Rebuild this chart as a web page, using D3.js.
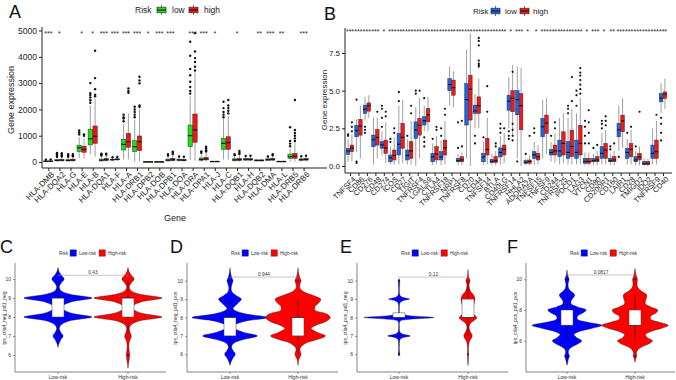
<!DOCTYPE html>
<html>
<head>
<meta charset="utf-8">
<script src="https://cdn.jsdelivr.net/npm/d3@7/dist/d3.min.js"></script>
<style>
  body { margin: 0; background: #fff; }
  svg { display: block; font-family: "Liberation Sans", Arial, sans-serif; }
</style>
</head>
<body>
<script>
// ---------- panel A : HLA genes ----------
const genesA = ["HLA-DMB","HLA-DQA2","HLA-G","HLA-E","HLA-B","HLA-DQA1","HLA-F","HLA-A","HLA-DRB1","HLA-DPB2","HLA-DOB","HLA-DPB1",
  "HLA-DOA","HLA-DRA","HLA-DPA1","HLA-J","HLA-C","HLA-DQB1","HLA-H","HLA-DQB2","HLA-DMA","HLA-L","HLA-DRB5","HLA-DRB6"];
// [lower whisker, q1, median, q3, upper whisker]
const lowA = [[5,15,25,40,70],[10,40,60,90,160],[10,40,60,90,160],[150,400,540,640,950],[300,650,880,1250,2150],[10,40,70,110,200],
  [30,70,90,110,150],[100,456,673,862,1450],[10,392,582,810,1600],[0,5,8,12,20],[0,5,10,15,25],[10,40,70,110,200],
  [10,50,80,110,180],[80,582,1000,1406,2500],[10,60,100,150,300],[0,10,20,30,50],[100,480,710,900,1650],[10,50,80,120,220],
  [30,70,100,130,200],[10,40,60,80,120],[20,60,90,120,180],[0,10,20,30,50],[10,140,200,300,500],[20,60,90,120,180]];
const highA = [[5,15,25,45,80],[10,45,70,100,170],[10,45,70,110,180],[130,370,480,600,900],[200,710,980,1370,2400],[10,50,90,140,240],
  [40,80,100,120,160],[100,560,772,1090,1850],[20,430,772,990,2000],[0,5,8,12,20],[0,5,10,15,25],[10,50,90,140,260],
  [10,45,70,100,170],[50,750,1217,1825,3400],[10,80,120,170,350],[0,10,20,30,50],[100,480,735,960,1750],[10,50,90,140,250],
  [30,70,100,130,200],[10,40,60,80,130],[30,70,100,140,230],[0,10,20,30,50],[10,140,220,330,750],[20,70,100,140,200]];
const lowOutA = [[90],[200,240,280,320,340],[200,240,270,300],[1050,1120,1200],[2250,2350,2450,2550,2620,3000],[250,290,320],
  [180],[1550,1650,1700,1800],[1700,1800,1900,2000,2100],[],[],[250,300],
  [210],[2600,2700,2850,3050,3300,3540,4040,4570],[350,400],[],[1700,1800,1900,2050,2290],[260,300],
  [230],[],[210],[],[600,700,800,1320],[220]];
const highOutA = [[100],[210,250,300,330],[220,260,300],[1000,1050],[2500,2560,2770,3190,4230],[280,320],
  [190],[2630,2700,2800],[2100,2150,2990,3100,3240],[],[],[300,350,390],
  [200],[3480,3620,3800,3950,4200,4900],[400,450,520,580],[],[1850,1950,2050,2150,2360],[300,350,420],
  [240],[],[260,300],[],[800,900,1000,1100,1216,2360],[240]];
const starsA = ["***","*","","*","*","***","***","***","***","*","***","***",
  "","***","***","*","","*","","**","***","**","","***"];
const ticksA = [0,1000,2000,3000,4000,5000];

// ---------- panel B : immune checkpoint genes ----------
const genesB = ["TNFSF4","CD86","CD276","CD48","CD274","ICOS","CD27","TIGIT","TNFRSF4","LGALS9","CTLA4","TNFRSF18","NRP1",
  "TNFRSF8","CD70","CD44","TNFSF14","BTLA","CD40LG","TNFRSF14","HHLA2","ADORA2A","TNFSF15","TNFSF9","CD244","TNFRSF25",
  "PDCD1","LAG3","VTCN1","CD80","CD200R1","CD160","LAIR1","CD28","TMIGD2","IDO2","TNFRSF9","CD40"];
const lowB = [[0.3,0.77,1.0,1.17,1.8],[0.9,1.94,2.35,2.7,3.1],[3.0,3.49,3.77,4.04,4.6],[0.1,1.28,1.75,2.05,3.2],[0.7,1.17,1.4,1.61,2.3],
  [0.1,0.28,0.55,0.73,1.3],[0.1,0.73,1.45,2.16,4.0],[0.1,0.4,0.7,1.06,1.8],[0.0,1.83,2.4,2.93,3.9],[2.3,2.72,3.0,3.27,4.0],
  [0.05,0.28,0.6,0.84,1.5],[0.05,0.4,0.6,0.95,1.7],[4.0,5.0,5.4,5.8,6.6],[0.05,0.28,0.35,0.51,0.8],[0.5,2.72,4.4,5.47,7.7],
  [2.5,3.49,3.65,4.04,4.8],[0.05,0.28,0.6,0.84,1.6],[0.05,0.22,0.3,0.44,0.8],[0.1,0.6,0.9,1.2,2.0],[2.5,3.7,4.3,4.7,5.9],
  [0.5,3.4,4.4,5.0,6.6],[0.05,0.18,0.25,0.35,0.5],[0.1,0.51,0.75,0.95,1.6],[0.5,1.94,2.6,3.16,4.4],[0.3,0.73,0.9,1.1,1.6],
  [0.1,0.62,1.0,1.72,3.2],[0.1,0.51,0.9,1.61,3.2],[0.1,0.51,0.9,1.72,3.5],[0.05,0.18,0.3,0.51,0.9],[0.05,0.28,0.35,0.5,0.8],
  [0.1,0.51,0.84,1.28,2.2],[0.05,0.28,0.35,0.51,0.8],[1.0,1.94,2.4,2.83,4.0],[0.1,0.51,0.9,1.17,1.8],[0.05,0.28,0.4,0.62,1.0],
  [0.0,0.1,0.15,0.3,0.5],[0.1,0.51,0.84,1.39,2.5],[3.5,4.26,4.5,4.81,5.5]];
const highB = [[0.3,0.95,1.2,1.39,2.1],[0.5,2.05,2.65,3.09,4.0],[3.2,3.64,4.0,4.19,4.7],[0.5,1.39,1.9,2.43,3.2],[0.2,0.84,1.2,1.72,2.9],
  [0.1,0.4,0.7,1.06,1.9],[0.2,1.17,1.9,2.83,4.4],[0.1,0.51,1.0,1.61,3.0],[0.5,2.05,2.7,3.16,4.5],[2.3,2.93,3.4,3.82,4.6],
  [0.1,0.4,0.8,1.28,2.0],[0.1,0.73,1.2,1.72,3.0],[3.9,4.7,5.2,5.7,6.3],[0.05,0.28,0.4,0.62,0.9],[0.0,3.05,5.1,6.03,8.8],
  [2.5,3.49,4.0,4.59,5.8],[0.1,0.73,1.1,1.83,3.2],[0.05,0.22,0.35,0.62,1.0],[0.2,0.73,1.1,1.39,2.2],[2.0,3.6,4.5,5.0,6.7],
  [0.0,2.4,4.0,4.8,6.5],[0.05,0.18,0.3,0.4,0.7],[0.1,0.4,0.6,0.84,1.4],[0.8,2.16,2.85,3.38,4.5],[0.2,0.73,1.0,1.39,2.2],
  [0.2,0.73,1.5,2.27,3.5],[0.1,0.62,1.3,2.38,3.8],[0.1,0.73,1.5,2.7,4.5],[0.05,0.18,0.3,0.51,0.9],[0.05,0.28,0.4,0.62,1.0],
  [0.1,0.51,1.05,1.5,2.4],[0.05,0.28,0.4,0.62,1.0],[1.2,2.27,3.0,3.38,4.5],[0.1,0.62,1.1,1.5,2.4],[0.05,0.4,0.6,0.84,1.3],
  [0.0,0.1,0.15,0.3,0.5],[0.1,0.51,0.95,1.72,3.0],[3.8,4.48,4.77,4.92,5.8]];
const lowOutB = [[2.0,2.1],[0.2,0.3,4.4],[2.2,2.4,2.6],[],[2.6,3.2,3.8,4.0],[1.6,1.8],[4.3,4.9],[2.0],[4.8,5.0],[1.3,1.6,1.9,4.5],
  [1.8],[2.0,2.5],[],[1.2,2.9],[],[1.5,2.0],[1.9],[],[2.2,2.5,2.8],[1.8,2.0,2.3],[0.3],[0.8],[2.2,2.5],[],[2.0],
  [],[3.5,3.8,4.0],[4.0,4.7,5.0],[1.5,2.0,2.6,3.0],[1.2],[2.5,2.8,3.0],[1.1,1.3],[0.6],[2.2],[1.3],[],[],[1.7,2.2,2.8,3.2]];
const highOutB = [[2.3,2.6,2.9],[],[],[3.6],[3.3,3.6],[2.2,2.5],[],[3.5,4.0],[5.0],[],
  [2.4,2.6],[3.4,3.8],[],[1.3,3.0],[],[6.6,6.7,6.8,7.0,8.0,8.3,8.5],[3.6,5.3],[1.3,1.5],[2.5],[1.7,2.0,2.4,2.8,6.25],[],[2.0],[],[],[2.5,2.9],
  [],[4.3,5.9],[4.8,5.1,5.4,5.7,6.0,6.2,6.5],[1.5,2.2,2.9,3.7],[1.4],[2.7,3.0,3.3],[1.5],[],[2.6],[3.6],[],[3.4],[]];
const starsB = ["***","***","***","***","*","***","***","***","***","***","***","***","***","***","***","***","***","***","***",
  "*","***","*","*","***","***","***","***","***","*","***","*","**","***","***","***","***","***","***"];
const ticksB = [0,2.5,5,7.5];

// ---------- panels C-F : violins, [value, relative half width] ----------
const violinNames = ["ips_ctla4_neg_pd1_neg","ips_ctla4_neg_pd1_pos","ips_ctla4_pos_pd1_neg","ips_ctla4_pos_pd1_pos"];
const pValues = ["0.43","0.944","0.12","0.0817"];
const groups = ["Low-risk","High-risk"];
const shapeLow = [
  [[6.4,0],[6.6,0.03],[6.8,0.08],[7,0.15],[7.2,0.08],[7.4,0.04],[7.6,0.1],[7.8,0.35],[8,1],[8.2,0.4],[8.4,0.15],[8.5,0.1],[8.6,0.15],[8.8,0.4],[9,1],[9.2,0.35],[9.4,0.08],[9.6,0.04],[9.8,0.1],[10,0.18],[10.2,0.1],[10.4,0.03],[10.6,0]],
  [[5.4,0],[5.6,0.03],[5.8,0.08],[6,0.14],[6.2,0.08],[6.4,0.04],[6.6,0.1],[6.8,0.35],[7,0.72],[7.2,0.35],[7.4,0.12],[7.5,0.08],[7.6,0.12],[7.8,0.4],[8,1],[8.2,0.4],[8.4,0.12],[8.5,0.08],[8.6,0.12],[8.8,0.22],[9,0.3],[9.2,0.16],[9.4,0.05],[9.6,0.03],[9.8,0.05],[10,0.08],[10.2,0.04],[10.5,0.01],[10.7,0]],
  [[5.9,0],[6,0.02],[6.2,0.01],[6.5,0.01],[6.8,0.03],[6.9,0.1],[7,0.32],[7.1,0.1],[7.2,0.03],[7.5,0.01],[7.8,0.03],[7.9,0.3],[8,1],[8.1,0.3],[8.2,0.03],[8.5,0.01],[8.8,0.03],[8.9,0.1],[9,0.3],[9.1,0.1],[9.2,0.03],[9.5,0.01],[10,0.02],[10.1,0]],
  [[4.4,0],[4.6,0.02],[4.8,0.04],[5,0.07],[5.2,0.04],[5.4,0.05],[5.6,0.15],[5.8,0.32],[6,0.42],[6.2,0.28],[6.4,0.2],[6.6,0.35],[6.8,0.7],[7,1],[7.2,0.6],[7.4,0.3],[7.6,0.3],[7.8,0.45],[8,0.55],[8.2,0.3],[8.4,0.12],[8.6,0.12],[8.8,0.18],[9,0.22],[9.2,0.12],[9.4,0.05],[9.6,0.03],[9.8,0.04],[10,0.06],[10.2,0.03],[10.4,0.01],[10.6,0]]
];
const shapeHigh = [
  [[5.3,0],[5.6,0.02],[6,0.05],[6.3,0.03],[6.6,0.03],[6.8,0.06],[7,0.1],[7.2,0.06],[7.4,0.04],[7.6,0.1],[7.8,0.35],[8,1],[8.2,0.4],[8.4,0.15],[8.5,0.1],[8.6,0.15],[8.8,0.4],[9,1],[9.2,0.35],[9.4,0.08],[9.6,0.04],[9.8,0.1],[10,0.18],[10.2,0.1],[10.4,0.03],[10.6,0]],
  [[5.4,0],[5.7,0.02],[6,0.08],[6.3,0.05],[6.6,0.2],[6.8,0.5],[7,0.72],[7.2,0.5],[7.4,0.35],[7.6,0.5],[7.8,0.75],[8,0.85],[8.2,0.75],[8.4,0.45],[8.6,0.45],[8.8,0.55],[9,0.6],[9.2,0.4],[9.4,0.15],[9.6,0.05],[9.8,0.05],[10,0.08],[10.2,0.04],[10.5,0.01],[10.7,0]],
  [[5.4,0],[5.7,0.01],[6,0.015],[6.4,0.015],[6.7,0.04],[7,0.12],[7.3,0.05],[7.5,0.03],[7.7,0.08],[7.9,0.22],[8,0.25],[8.2,0.15],[8.5,0.15],[8.8,0.18],[9,0.2],[9.2,0.17],[9.4,0.08],[9.6,0.04],[9.8,0.03],[10,0.06],[10.2,0.02],[10.6,0]],
  [[4.6,0],[4.8,0.02],[5,0.05],[5.2,0.04],[5.4,0.08],[5.6,0.2],[5.8,0.4],[6,0.5],[6.2,0.35],[6.4,0.3],[6.6,0.45],[6.8,0.75],[7,0.95],[7.2,0.7],[7.4,0.45],[7.6,0.45],[7.8,0.6],[8,0.65],[8.2,0.45],[8.4,0.3],[8.6,0.3],[8.8,0.33],[9,0.33],[9.2,0.2],[9.4,0.1],[9.6,0.06],[9.8,0.06],[10,0.07],[10.2,0.04],[10.4,0.02],[10.7,0]]
];
// [lower whisker, q1, median, q3, upper whisker]
const boxLow = [[7,8,9,9,10],[6,7,8,8,9],[8,8,8,8.25,8.25],[6,7,7,8,9]];
const boxHigh = [[7,8,9,9,10],[6,7,8,8,9],[7,8,8,9,10],[6,7,7,8,9]];
const outLow = [[],[10],[6,7,9,10],[5,10]];
const outHigh = [[6],[10],[6],[5,10]];

const svg = d3.select("body").append("svg").attr("width", 676).attr("height", 380);

function boxKey(g, x, y, w, h, fill) {
  g.append("line").attr("x1", x + w/2).attr("x2", x + w/2).attr("y1", y).attr("y2", y + h)
    .attr("stroke", "#333").attr("stroke-width", 0.7);
  g.append("rect").attr("x", x).attr("y", y + h*0.22).attr("width", w).attr("height", h*0.56)
    .attr("fill", fill).attr("stroke", "#333").attr("stroke-width", 0.7);
  g.append("line").attr("x1", x).attr("x2", x + w).attr("y1", y + h/2).attr("y2", y + h/2)
    .attr("stroke", "#111").attr("stroke-width", 1);
}

function boxPanel(o) {
  const g = svg.append("g");
  const x = d3.scalePoint().domain(o.genes).range(o.xr);
  const y = d3.scaleLinear().domain(o.yd).range(o.yr);

  const ya = g.append("g").attr("transform", `translate(${o.ax},0)`)
    .call(d3.axisLeft(y).tickValues(o.ticks).tickFormat(o.fmt).tickSize(3).tickPadding(2));
  ya.select(".domain").remove();
  ya.selectAll("text").style("font-size", o.fs + "px").style("fill", "#222");
  ya.selectAll("line").attr("stroke", "#222");
  g.append("line").attr("x1", o.ax).attr("x2", o.ax).attr("y1", o.axTop).attr("y2", o.ay).attr("stroke", "#222");

  const xa = g.append("g").attr("transform", `translate(0,${o.ay})`)
    .call(d3.axisBottom(x).tickSize(3));
  xa.select(".domain").remove();
  xa.selectAll("line").attr("stroke", "#222");
  xa.selectAll("text").attr("x", 0).attr("y", 0).attr("dy", "0.7em")
    .attr("transform", "translate(2,3) rotate(-45)").style("text-anchor", "end")
    .style("font-size", o.xfs + "px").style("fill", "#222");
  g.append("line").attr("x1", o.ax).attr("x2", o.axRight).attr("y1", o.ay).attr("y2", o.ay).attr("stroke", "#222");

  [[o.low, o.lowOut, -o.dodge, o.cols[0]], [o.high, o.highOut, o.dodge, o.cols[1]]].forEach(([stats, outs, off, col]) => {
    const bx = g.append("g");
    bx.selectAll("line.w").data(stats).join("line").attr("class", "w")
      .attr("x1", (d, i) => x(o.genes[i]) + off).attr("x2", (d, i) => x(o.genes[i]) + off)
      .attr("y1", d => y(d[0])).attr("y2", d => y(d[4]))
      .attr("stroke", "#777").attr("stroke-width", 0.7);
    bx.selectAll("rect").data(stats).join("rect")
      .attr("x", (d, i) => x(o.genes[i]) + off - o.bw/2).attr("width", o.bw)
      .attr("y", d => y(d[3])).attr("height", d => Math.max(0.8, y(d[1]) - y(d[3])))
      .attr("fill", col).attr("stroke", "#333").attr("stroke-width", 0.5);
    bx.selectAll("line.m").data(stats).join("line").attr("class", "m")
      .attr("x1", (d, i) => x(o.genes[i]) + off - o.bw/2).attr("x2", (d, i) => x(o.genes[i]) + off + o.bw/2)
      .attr("y1", d => y(d[2])).attr("y2", d => y(d[2]))
      .attr("stroke", "#111").attr("stroke-width", 1.1);
    const pts = [];
    outs.forEach((arr, i) => arr.forEach(v => pts.push([x(o.genes[i]) + off, y(v)])));
    bx.selectAll("circle").data(pts).join("circle")
      .attr("cx", d => d[0]).attr("cy", d => d[1]).attr("r", o.r).attr("fill", "#111");
  });

  g.selectAll("text.star").data(o.stars).join("text").attr("class", "star")
    .attr("x", (d, i) => x(o.genes[i])).attr("y", o.starY)
    .attr("text-anchor", "middle").style("font-size", "7px").style("fill", "#222").text(d => d);

  g.append("text").attr("transform", `translate(${o.ylabX},${o.ylabY}) rotate(-90)`)
    .attr("text-anchor", "middle").style("font-size", o.ylfs + "px").style("fill", "#222").text("Gene expression");

  // legend
  const lg = g.append("g");
  lg.append("text").attr("x", o.leg[0]).attr("y", o.legY + 3).style("font-size", o.lfs + "px").style("fill", "#222").text("Risk");
  boxKey(lg, o.leg[1], o.legY - 5, 9, 10, o.cols[0]);
  lg.append("text").attr("x", o.leg[2]).attr("y", o.legY + 3).style("font-size", o.lfs + "px").style("fill", "#222").text("low");
  boxKey(lg, o.leg[3], o.legY - 5, 9, 10, o.cols[1]);
  lg.append("text").attr("x", o.leg[4]).attr("y", o.legY + 3).style("font-size", o.lfs + "px").style("fill", "#222").text("high");
}

boxPanel({
  genes: genesA, low: lowA, high: highA, lowOut: lowOutA, highOut: highOutA, stars: starsA,
  xr: [48.3, 303.6], yd: [0, 5000], yr: [162, 30.5], ticks: ticksA, fmt: d3.format("d"),
  ax: 42, axTop: 27, ay: 168, axRight: 327, fs: 8.5, xfs: 8,
  dodge: 2.4, bw: 4.4, r: 1.2, cols: ["#18e018", "#ee1515"], starY: 36,
  ylabX: 14, ylabY: 100, ylfs: 9, lfs: 8.5, leg: [135, 157, 172, 189, 204], legY: 10
});
svg.append("text").attr("x", 175).attr("y", 221).attr("text-anchor", "middle")
  .style("font-size", "9px").style("fill", "#222").text("Gene");

boxPanel({
  genes: genesB, low: lowB, high: highB, lowOut: lowOutB, highOut: highOutB, stars: starsB,
  xr: [350, 663], yd: [0, 7.5], yr: [166, 53], ticks: ticksB, fmt: d3.format(".1f"),
  ax: 345, axTop: 28, ay: 173, axRight: 672, fs: 8, xfs: 7.5,
  dodge: 1.9, bw: 3.6, r: 1.1, cols: ["#1f64e8", "#f01818"], starY: 34,
  ylabX: 327, ylabY: 100, ylfs: 8, lfs: 8, leg: [473, 491, 505, 520, 533], legY: 11
});

// panel letters
[["A", 9, 18], ["B", 324, 20], ["C", 0, 253], ["D", 170, 253], ["E", 340, 253], ["F", 507, 253]].forEach(([t, x, y]) => {
  svg.append("text").attr("x", x).attr("y", y).style("font-size", "18px").style("fill", "#111").text(t);
});

// violin panels
const vp = [
  { x0: 15, x1: 166, yr: [355, 279], cx: [58, 128], ticks: [6,7,8,9,10], labX: 6, maxW: 34, br: 10.2 },
  { x0: 187, x1: 338, yr: [354.3, 280.7], cx: [230, 298], ticks: [6,7,8,9,10], labX: 177, maxW: 38, br: 10.2 },
  { x0: 357, x1: 508, yr: [354.3, 280.7], cx: [399, 468], ticks: [6,7,8,9,10], labX: 347, maxW: 35, br: 10.2 },
  { x0: 526, x1: 675, yr: [340.7, 279.3], cx: [567, 635], ticks: [6,8,10], labX: 517, maxW: 35, br: 10.28 }
];
const vcols = ["#0000ff", "#ff0000"];

vp.forEach((o, k) => {
  const g = svg.append("g");
  const y = d3.scaleLinear().domain([6, 10]).range(o.yr);
  const x = d3.scaleOrdinal().domain(groups).range(o.cx);
  const ya = g.append("g").attr("transform", `translate(${o.x0},0)`)
    .call(d3.axisLeft(y).tickValues(o.ticks).tickFormat(d3.format("d")).tickSize(2).tickPadding(2));
  ya.select(".domain").remove();
  ya.selectAll("text").style("font-size", "5px").style("fill", "#333");
  ya.selectAll("line").attr("stroke", "#333").attr("stroke-width", 0.5);
  g.append("line").attr("x1", o.x0).attr("x2", o.x0).attr("y1", 263).attr("y2", 372).attr("stroke", "#333").attr("stroke-width", 0.6);
  g.append("line").attr("x1", o.x0).attr("x2", o.x1).attr("y1", 372).attr("y2", 372).attr("stroke", "#333").attr("stroke-width", 0.6);
  groups.forEach(gr => {
    g.append("line").attr("x1", x(gr)).attr("x2", x(gr)).attr("y1", 372).attr("y2", 374).attr("stroke", "#333").attr("stroke-width", 0.5);
    g.append("text").attr("x", x(gr)).attr("y", 379).attr("text-anchor", "middle")
      .style("font-size", "5px").style("fill", "#333").text(gr);
  });
  g.append("text").attr("transform", `translate(${o.labX},318) rotate(-90)`).attr("text-anchor", "middle")
    .style("font-size", "5px").style("fill", "#333").text(violinNames[k]);

  [[shapeLow[k], boxLow[k], outLow[k]], [shapeHigh[k], boxHigh[k], outHigh[k]]].forEach(([shape, b, outs], j) => {
    const cx = o.cx[j];
    const area = d3.area().curve(d3.curveCatmullRom)
      .y(d => y(d[0])).x0(d => cx - d[1] * o.maxW).x1(d => cx + d[1] * o.maxW);
    g.append("path").datum(shape).attr("d", area).attr("fill", vcols[j])
      .attr("stroke", "#111").attr("stroke-width", 0.4);
    g.append("line").attr("x1", cx).attr("x2", cx).attr("y1", y(b[0])).attr("y2", y(b[4]))
      .attr("stroke", "#111").attr("stroke-width", 0.6);
    g.append("rect").attr("x", cx - 6).attr("width", 12).attr("y", y(b[3])).attr("height", Math.max(1, y(b[1]) - y(b[3])))
      .attr("fill", "#fff").attr("stroke", "#444").attr("stroke-width", 0.5);
    g.append("line").attr("x1", cx - 6).attr("x2", cx + 6).attr("y1", y(b[2])).attr("y2", y(b[2]))
      .attr("stroke", "#222").attr("stroke-width", 0.6);
    g.selectAll(null).data(outs).join("circle").attr("cx", cx).attr("cy", d => y(d)).attr("r", 0.9).attr("fill", "#111");
  });

  // comparison bracket
  const by = y(o.br);
  g.append("path").attr("d", `M${o.cx[0]},${by + 1.5}V${by}H${o.cx[1]}V${by + 1.5}`)
    .attr("fill", "none").attr("stroke", "#888").attr("stroke-width", 0.5);
  g.append("text").attr("x", (o.cx[0] + o.cx[1]) / 2).attr("y", by - 1.5).attr("text-anchor", "middle")
    .style("font-size", "4.8px").style("fill", "#333").text(pValues[k]);

  // legend
  const L = o.x0 + 44, ly = 253;
  g.append("text").attr("x", L).attr("y", ly + 1.7).style("font-size", "4.6px").style("fill", "#333").text("Risk");
  [[L + 11, L + 20, groups[0], vcols[0]], [L + 40, L + 49, groups[1], vcols[1]]].forEach(([kx, tx, t, c]) => {
    g.append("rect").attr("x", kx).attr("y", ly - 3.2).attr("width", 6.5).attr("height", 6.4)
      .attr("fill", c).attr("stroke", "#555").attr("stroke-width", 0.4);
    g.append("text").attr("x", tx).attr("y", ly + 1.7).style("font-size", "4.6px").style("fill", "#333").text(t);
  });
});
</script>
</body>
</html>
